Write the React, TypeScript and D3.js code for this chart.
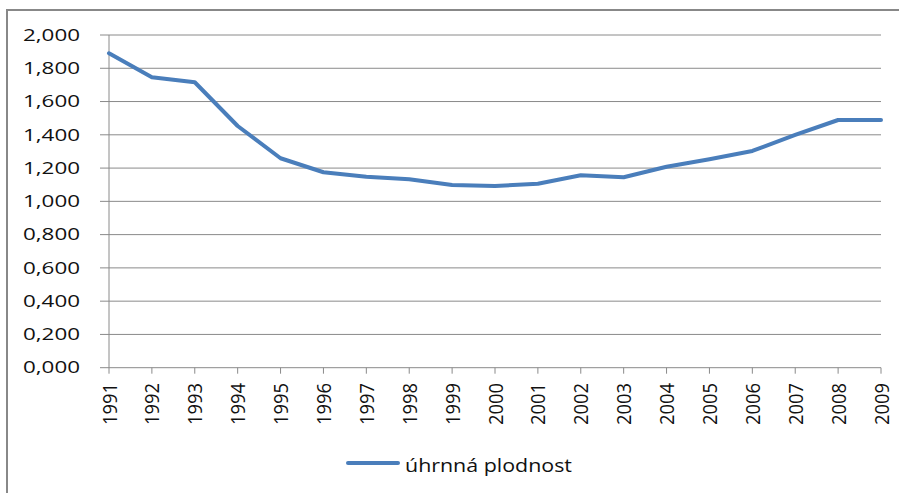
import React from "react";
import * as d3 from "d3";

const years: string[] = [
  "1991", "1992", "1993", "1994", "1995", "1996", "1997", "1998", "1999", "2000",
  "2001", "2002", "2003", "2004", "2005", "2006", "2007", "2008", "2009",
];
const fertility: number[] = [
  1.89, 1.746, 1.716, 1.453, 1.259, 1.175, 1.148, 1.133, 1.098, 1.092,
  1.106, 1.157, 1.145, 1.208, 1.253, 1.303, 1.399, 1.489, 1.489,
];
const yTicks: number[] = [0, 0.2, 0.4, 0.6, 0.8, 1.0, 1.2, 1.4, 1.6, 1.8, 2.0];
const seriesName = "úhrnná plodnost";

const W = 899;
const H = 493;
const left = 109;
const right = 881;
const top = 35;
const bottom = 367.7;
const FONT = "'Open Sans', 'Liberation Sans', sans-serif";
const LINE = "#4a7ebb";
const GRID = "#8a8a8a";

const fmt = (v: number) => v.toFixed(3).replace(".", ",");

export default function App() {
  const x = d3.scalePoint<string>().domain(years).range([left, right]);
  const y = d3.scaleLinear().domain([0, 2]).range([bottom, top]);
  const line = d3
    .line<number>()
    .x((_, i) => x(years[i]) as number)
    .y((d) => y(d));

  return (
    <svg
      width={W}
      height={H}
      style={{ position: "absolute", left: 0, top: 0, background: "#fff" }}
    >
      <rect x={0} y={0} width={W} height={H} fill="#fff" />
      <rect x={7} y={10} width={900} height={490} fill="none" stroke="#888" strokeWidth={2} />

      {yTicks.map((t) => (
        <g key={t}>
          <line x1={left - 9} x2={right} y1={y(t)} y2={y(t)} stroke={GRID} strokeWidth={1} />
          <text
            x={80}
            y={y(t) + 5.7}
            textAnchor="end"
            fontFamily={FONT}
            fontSize={16}
            fill="#111"
            textLength={57}
            lengthAdjust="spacingAndGlyphs"
          >
            {fmt(t)}
          </text>
        </g>
      ))}

      <line x1={left} x2={left} y1={top} y2={bottom} stroke={GRID} strokeWidth={1} />

      {years.map((yr) => (
        <g key={yr}>
          <line
            x1={x(yr) as number}
            x2={x(yr) as number}
            y1={bottom}
            y2={bottom + 6}
            stroke={GRID}
            strokeWidth={1}
          />
          <g transform={`translate(${(x(yr) as number) + 7.5},383) scale(1.3,1) rotate(-90)`}>
            <text
              x={0}
              y={0}
              textAnchor="end"
              fontFamily={FONT}
              fontSize={16}
              fill="#111"
              textLength={42}
              lengthAdjust="spacingAndGlyphs"
            >
              {yr}
            </text>
          </g>
        </g>
      ))}

      <path
        d={line(fertility) ?? ""}
        fill="none"
        stroke={LINE}
        strokeWidth={4}
        strokeLinejoin="round"
        strokeLinecap="round"
      />

      <line x1={348} x2={398} y1={463} y2={463} stroke={LINE} strokeWidth={4} strokeLinecap="round" />
      <text
        x={405}
        y={471.5}
        fontFamily={FONT}
        fontSize={18}
        fill="#111"
        textLength={167}
        lengthAdjust="spacingAndGlyphs"
      >
        {seriesName}
      </text>
    </svg>
  );
}
